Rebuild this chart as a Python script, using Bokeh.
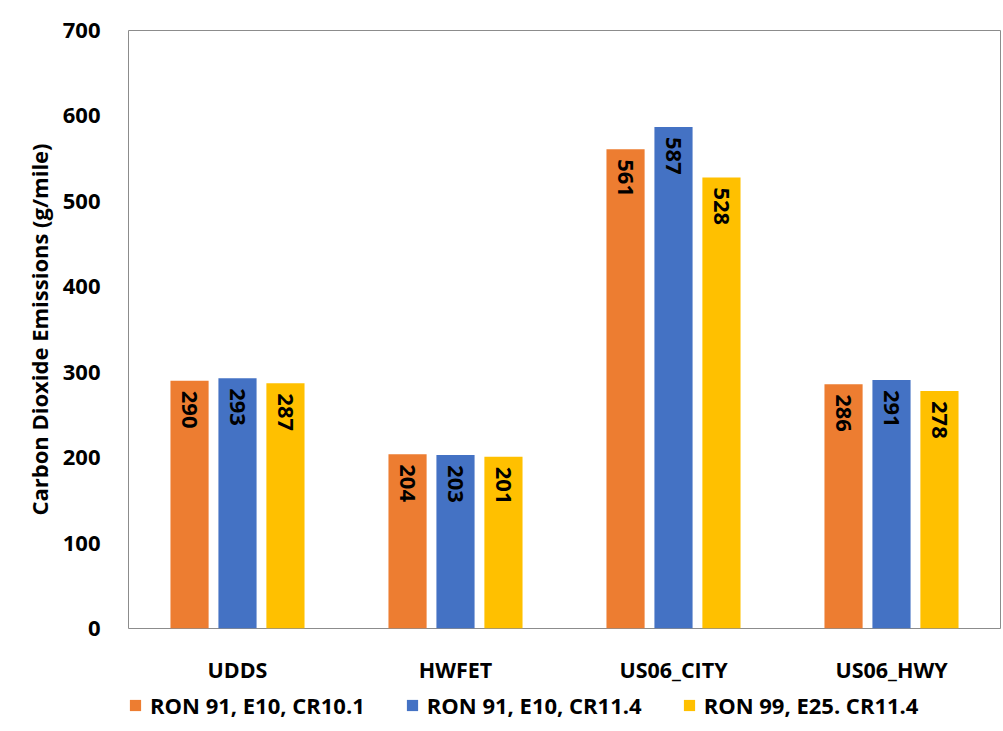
from bokeh.plotting import figure
from bokeh.models import ColumnDataSource, FactorRange, Legend, LegendItem, FixedTicker
from bokeh.layouts import column
from bokeh.transform import dodge
from bokeh.core.properties import value
from bokeh.embed import file_html
from bokeh.resources import INLINE

cycles = ["UDDS", "HWFET", "US06_CITY", "US06_HWY"]
series_names = ["RON 91, E10, CR10.1", "RON 91, E10, CR11.4", "RON 99, E25. CR11.4"]
ron91_cr101 = [290, 204, 561, 286]
ron91_cr114 = [293, 203, 587, 291]
ron99_cr114 = [287, 201, 528, 278]
y_ticks = [0, 100, 200, 300, 400, 500, 600, 700]

colors = ["#ED7D31", "#4472C4", "#FFC000"]
FONT = "Open Sans"

src = ColumnDataSource(dict(cycle=cycles, s0=ron91_cr101, s1=ron91_cr114, s2=ron99_cr114,
                            l0=[str(v) for v in ron91_cr101],
                            l1=[str(v) for v in ron91_cr114],
                            l2=[str(v) for v in ron99_cr114]))

p = figure(x_range=FactorRange(*cycles, range_padding=0), y_range=(0, 700),
           width=1003, height=690, output_backend="svg", toolbar_location=None,
           min_border_left=128, min_border_right=3, min_border_top=30, min_border_bottom=62)

offsets = [-0.22, 0.0, 0.22]
for i, (col, off) in enumerate(zip(["s0", "s1", "s2"], offsets)):
    p.vbar(x=dodge("cycle", off, range=p.x_range), top=col, width=0.175, source=src,
           fill_color=colors[i], line_color=None)
    p.text(x=dodge("cycle", off, range=p.x_range), y=col, text="l%d" % i, source=src,
           angle=-1.5708, text_align="left", text_baseline="middle",
           text_font=value(FONT), text_font_style="bold", text_font_size="22px",
           text_color="black", y_offset=10)

p.xgrid.visible = False
p.ygrid.visible = False
p.outline_line_color = "#8c8c8c"
p.outline_line_width = 1

p.yaxis.ticker = FixedTicker(ticks=y_ticks)
p.yaxis.axis_line_color = None
p.yaxis.major_tick_line_color = None
p.yaxis.minor_tick_line_color = None
p.yaxis.major_label_text_font = FONT
p.yaxis.major_label_text_font_style = "bold"
p.yaxis.major_label_text_font_size = "22px"
p.yaxis.major_label_text_color = "black"
p.yaxis.major_label_standoff = 22
p.yaxis.axis_label = "Carbon Dioxide Emissions (g/mile)"
p.yaxis.axis_label_text_font = FONT
p.yaxis.axis_label_text_font_style = "bold"
p.yaxis.axis_label_text_font_size = "22px"
p.yaxis.axis_label_text_color = "black"
p.yaxis.axis_label_standoff = 6

p.xaxis.axis_line_color = None
p.xaxis.major_tick_line_color = None
p.xaxis.minor_tick_line_color = None
p.xaxis.major_label_text_font = FONT
p.xaxis.major_label_text_font_style = "bold"
p.xaxis.major_label_text_font_size = "21.5px"
p.xaxis.major_label_text_color = "black"
p.xaxis.major_label_standoff = 20

# legend strip below the chart
lg = figure(width=1003, height=41, output_backend="svg", toolbar_location=None,
            x_range=(0, 1), y_range=(0, 1), x_axis_location=None, y_axis_location=None,
            min_border=0, min_border_left=0, min_border_right=0,
            min_border_top=0, min_border_bottom=0)
lg.xgrid.visible = False
lg.ygrid.visible = False
lg.outline_line_color = None
swatches = [lg.vbar(x=[-5], top=[-5], bottom=[-6], width=0.1, fill_color=c, line_color=None)
            for c in colors]
legend = Legend(items=[LegendItem(label=n, renderers=[r]) for n, r in zip(series_names, swatches)],
                orientation="horizontal", location=(0, 11),
                glyph_width=14, glyph_height=14, label_text_font=FONT,
                label_text_font_style="bold", label_text_font_size="22px",
                label_text_color="black",
                label_standoff=8, spacing=40, padding=0, margin=0,
                background_fill_alpha=0, border_line_color=None)
lg.add_layout(legend, "center")

layout = column(p, lg, spacing=0)
open("out.html", "w").write(file_html(layout, INLINE))
